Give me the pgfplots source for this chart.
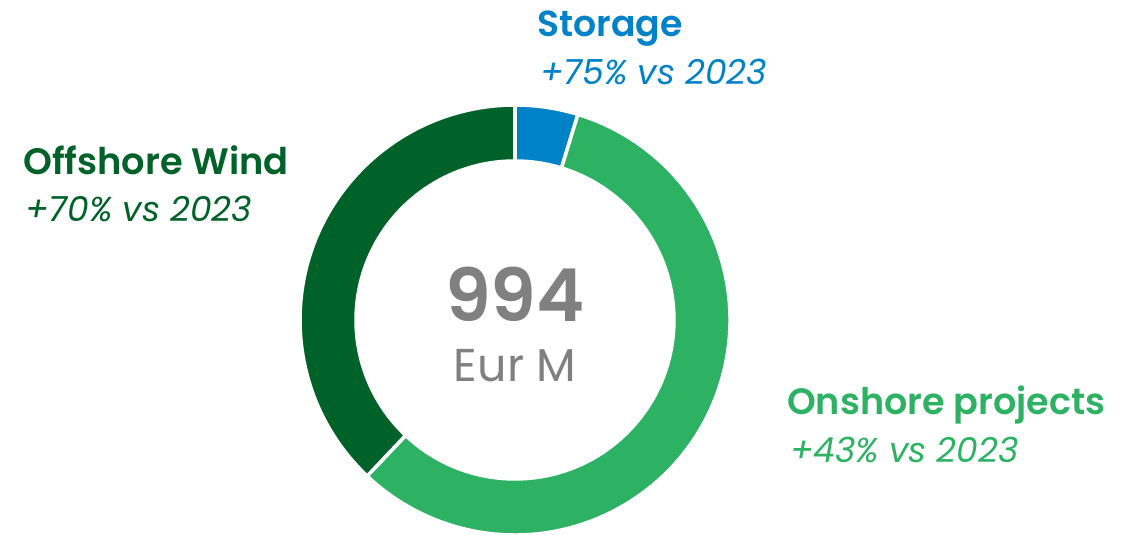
\documentclass[border=0pt]{standalone}
\usepackage{pgfplots}
\usepackage{pgfplotstable}
\pgfplotsset{compat=1.18}
\usepackage{fontspec}
\setmainfont{Poppins}[BoldFont={Poppins SemiBold}]
\definecolor{storage}{HTML}{0082C8}
\definecolor{onshore}{HTML}{2DB264}
\definecolor{offshore}{HTML}{006228}
\definecolor{centergray}{HTML}{808080}
\pgfplotstableread{
seg value
Storage 47
Onshore 570
Offshore 377
}\donutdata
\begin{document}
\begin{tikzpicture}
\pgfplotstablegetelem{0}{value}\of\donutdata \let\vA\pgfplotsretval
\pgfplotstablegetelem{1}{value}\of\donutdata \let\vB\pgfplotsretval
\pgfplotstablegetelem{2}{value}\of\donutdata \let\vC\pgfplotsretval
\pgfmathsetmacro{\tot}{\vA+\vB+\vC}
\pgfmathsetmacro{\aO}{90}
\pgfmathsetmacro{\aA}{90-360*(\vA/\tot)}
\pgfmathsetmacro{\aB}{\aA-360*(\vB/\tot)}
\pgfmathsetmacro{\aC}{\aB-360*(\vC/\tot)}
\def\Ro{215}
\def\Ri{159}
\begin{axis}[
  scale only axis, width=1132pt, height=535pt,
  xmin=-515, xmax=617, ymin=-215, ymax=320,
  hide axis, clip=false,
]
\fill[storage, draw=white, line width=3.5pt]
  (axis cs:{\Ro*cos(\aO)},{\Ro*sin(\aO)}) arc[start angle=\aO, end angle=\aA, radius=\Ro pt]
  -- (axis cs:{\Ri*cos(\aA)},{\Ri*sin(\aA)}) arc[start angle=\aA, end angle=\aO, radius=\Ri pt] -- cycle;
\fill[onshore, draw=white, line width=3.5pt]
  (axis cs:{\Ro*cos(\aA)},{\Ro*sin(\aA)}) arc[start angle=\aA, end angle=\aB, radius=\Ro pt]
  -- (axis cs:{\Ri*cos(\aB)},{\Ri*sin(\aB)}) arc[start angle=\aB, end angle=\aA, radius=\Ri pt] -- cycle;
\fill[offshore, draw=white, line width=3.5pt]
  (axis cs:{\Ro*cos(\aB)},{\Ro*sin(\aB)}) arc[start angle=\aB, end angle=\aC, radius=\Ro pt]
  -- (axis cs:{\Ri*cos(\aC)},{\Ri*sin(\aC)}) arc[start angle=\aC, end angle=\aB, radius=\Ri pt] -- cycle;
% labels (image px -> axis: x-515, 320-y)
\node[anchor=base west, inner sep=0pt, text=storage, font=\fontsize{36.2}{40}\selectfont\bfseries] at (axis cs:22,283) {Storage};
\node[anchor=base west, inner sep=0pt, text=storage, font=\fontsize{34.5}{38}\selectfont\itshape] at (axis cs:25,235) {+75\% vs 2023};
\node[anchor=base west, inner sep=0pt, text=offshore, font=\fontsize{36.8}{40}\selectfont\bfseries] at (axis cs:-492,145) {Offshore Wind};
\node[anchor=base west, inner sep=0pt, text=offshore, font=\fontsize{34.5}{38}\selectfont\itshape] at (axis cs:-490,98) {+70\% vs 2023};
\node[anchor=base west, inner sep=0pt, text=onshore, font=\fontsize{36.6}{40}\selectfont\bfseries] at (axis cs:272,-95) {Onshore projects};
\node[anchor=base west, inner sep=0pt, text=onshore, font=\fontsize{34.5}{38}\selectfont\itshape] at (axis cs:275,-143) {+43\% vs 2023};
\node[anchor=base, inner sep=0pt, text=centergray, font=\fontsize{73}{80}\selectfont\bfseries] at (axis cs:0,-2) {994};
\node[anchor=base, inner sep=0pt, text=centergray, font=\fontsize{46}{50}\selectfont] at (axis cs:0,-62) {Eur M};
\end{axis}
\pgfresetboundingbox
\useasboundingbox (current axis.south west) rectangle (current axis.north east);
\end{tikzpicture}
\end{document}
